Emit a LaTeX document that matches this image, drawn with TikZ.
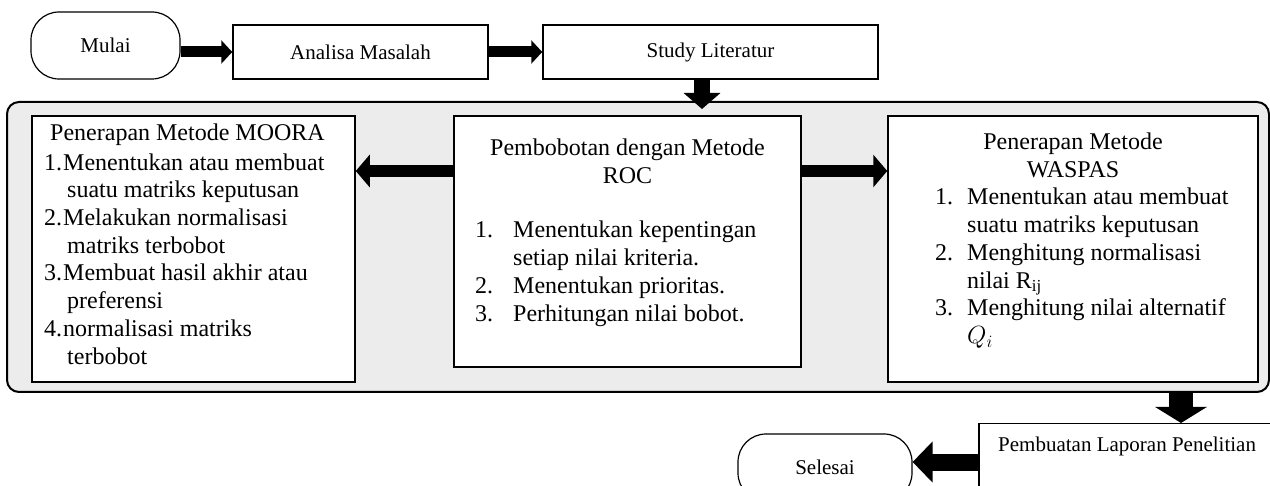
\documentclass[tikz,border=0pt]{standalone}
\usepackage{fontspec}
\setmainfont{Liberation Serif}
\usetikzlibrary{arrows.meta}

\begin{document}
\begin{tikzpicture}[
    x=1pt, y=-1pt,
    box/.style={rectangle, draw, fill=white, line width=1.5pt, inner sep=0pt},
    terminal/.style={rectangle, draw, fill=white, rounded corners=28pt, line width=1.2pt, minimum width=149pt, minimum height=67pt, font=\fontsize{21}{25}\selectfont},
    panel/.style={rectangle, draw, fill=gray!15, rounded corners=12pt, line width=2pt},
    toptext/.style={inner sep=0pt, font=\fontsize{21}{25}\selectfont},
    bodytext/.style={inner sep=0pt, font=\fontsize{24}{27.7}\selectfont},
    fat/.style n args={3}{line width=#1, -{Triangle[width=#2, length=#3]}}
]
    \useasboundingbox (0,0) rectangle (1270,486);
    \clip (0,0) rectangle (1270,486);

    \node[terminal] (mulai) at (105.5,45.5) {Mulai};
    \node[box, toptext, minimum width=255pt, minimum height=54pt] (analisa) at (360.5,52) {Analisa Masalah};
    \node[box, toptext, minimum width=335pt, minimum height=54pt] (study) at (710.5,52) {Study Literatur};

    \node[panel, minimum width=1262pt, minimum height=290pt] (panel) at (638,247) {};
    \node[box, minimum width=323pt, minimum height=266pt] (moora) at (193.5,249) {};
    \node[box, minimum width=347pt, minimum height=251pt] (roc) at (627.5,241.5) {};
    \node[box, minimum width=370pt, minimum height=266pt] (waspas) at (1073,249) {};

    \node[bodytext, anchor=base west] (mooratext) at (44,141) {\begin{tabular}[t]{@{}p{19pt}@{}l@{}}
        \multicolumn{2}{c}{Penerapan Metode MOORA}\\[1.5pt]
        1.&Menentukan atau membuat\\
        &\hspace{4pt}suatu matriks keputusan\\
        2.&Melakukan normalisasi\\
        &\hspace{4pt}matriks terbobot\\
        3.&Membuat hasil akhir atau\\
        &\hspace{4pt}preferensi\\
        4.&normalisasi matriks\\
        &\hspace{4pt}terbobot
    \end{tabular}};

    \node[bodytext, anchor=base] (rochead) at (627.5,156) {\begin{tabular}[t]{@{}c@{}}
        Pembobotan dengan Metode\\ ROC
    \end{tabular}};
    \node[bodytext, anchor=base west] (roctext) at (475,238) {\begin{tabular}[t]{@{}p{38pt}@{}l@{}}
        1.&Menentukan kepentingan\\
        &setiap nilai kriteria.\\
        2.&Menentukan prioritas.\\
        3.&Perhitungan nilai bobot.
    \end{tabular}};

    \node[bodytext, anchor=base] (waspashead) at (1073,150) {\begin{tabular}[t]{@{}c@{}}
        Penerapan Metode\\ WASPAS
    \end{tabular}};
    \node[bodytext, anchor=base west] (waspastext) at (935,205) {\begin{tabular}[t]{@{}p{32pt}@{}l@{}}
        1.&Menentukan atau membuat\\
        &suatu matriks keputusan\\
        2.&Menghitung normalisasi\\
        &nilai R\textsubscript{ij}\\
        3.&Menghitung nilai alternatif\\
        &$Q_i$
    \end{tabular}};

    \node[box, minimum width=330pt, minimum height=100pt, anchor=north west] (lapor) at (978,423) {};
    \node[toptext, anchor=base west] (laportext) at (998,452) {Pembuatan Laporan Penelitian};
    \node[terminal, minimum width=174pt] (selesai) at (825,467.5) {Selesai};

    \coordinate (c1) at (702,109);
    \coordinate (c2) at (0,171);
    \coordinate (c3) at (1181,0);
    \coordinate (c4) at (0,462);

    \draw[fat={11pt}{23pt}{11pt}] (analisa.west -| mulai.east) -- (analisa.west);
    \draw[fat={11pt}{23pt}{11pt}] (analisa.east) -- (study.west);
    \draw[fat={16pt}{36pt}{16pt}] (study.south -| c1) -- (c1);
    \draw[fat={12pt}{32pt}{14pt}] (roc.west |- c2) -- (moora.east |- c2);
    \draw[fat={12pt}{32pt}{14pt}] (roc.east |- c2) -- (waspas.west |- c2);
    \draw[fat={24pt}{51pt}{16pt}] (panel.south -| c3) -- (lapor.north -| c3);
    \draw[fat={17pt}{40pt}{20pt}] (lapor.west |- c4) -- (selesai.east |- c4);
\end{tikzpicture}
\end{document}
